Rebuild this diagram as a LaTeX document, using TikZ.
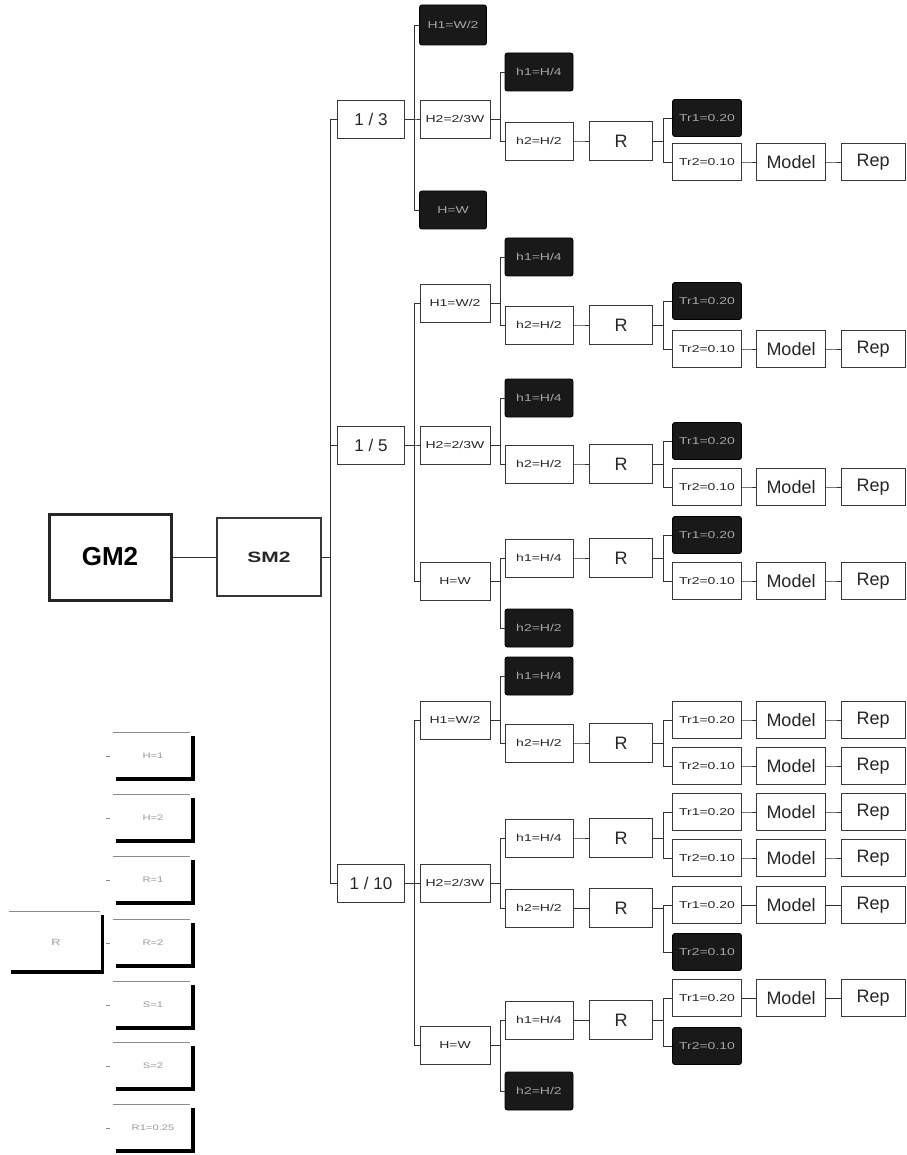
\documentclass[tikz,border=0pt]{standalone}
\usepackage{fontspec}
\setmainfont{Liberation Sans}
\newfontfamily\widefont[FakeStretch=1.4]{Liberation Sans}
\newcommand\br[3][10]{\draw[link] (#2.east) -- ++(#1,0) |- (#3.west);}
\begin{document}
\begin{tikzpicture}[x=1pt,y=-1pt,
  box/.style={draw=black!78, line width=0.9pt, fill=white, inner sep=0pt, text=black!85},
  sm/.style={box, minimum width=68pt, minimum height=38pt, font=\widefont\fontsize{10}{10}\selectfont},
  hb/.style={sm, minimum width=70pt},
  blk/.style={fill=black!90, draw=black, rounded corners=2.5pt, text=black!35},
  rb/.style={box, minimum width=63pt, minimum height=39pt, font=\fontsize{18}{18}\selectfont},
  tb/.style={sm, minimum width=69pt, minimum height=37pt},
  mb/.style={box, minimum width=69pt, minimum height=37pt, font=\fontsize{18}{18}\selectfont},
  pb/.style={mb, minimum width=64pt},
  lv/.style={box, minimum width=67pt, minimum height=38pt, font=\fontsize{17}{17}\selectfont},
  link/.style={draw=black!80, line width=0.9pt},
  lgb/.style={inner sep=0pt, minimum width=80pt, minimum height=46pt, text=black!40, font=\widefont\fontsize{8}{8}\selectfont},
  lgtop/.style={draw=black!45, line width=0.9pt},
  lgshadow/.style={draw=black, line width=3.5pt},
  lgtick/.style={draw=black!45, line width=0.8pt}
]
\useasboundingbox (0,0) rectangle (906,1155);

% root
\node[draw=black!85, line width=3pt, minimum width=122pt, minimum height=86pt, inner sep=0pt, font=\bfseries\fontsize{26}{26}\selectfont] (gm) at (110,557) {GM2};
\node[box, line width=1.3pt, minimum width=104pt, minimum height=78pt, font=\widefont\bfseries\fontsize{15}{15}\selectfont] (sm) at (269,557) {SM2};
\draw[link] (gm.east) -- (sm.west);

% level 1
\node[lv] (t3) at (371,119) {1 / 3};
\node[lv] (t5) at (371,445) {1 / 5};
\node[lv] (t10) at (371,883) {1 / 10};
\br[9]{sm}{t3} \br[9]{sm}{t5} \br[9]{sm}{t10}

% ===== 1/3 =====
\node[sm, blk, minimum width=67pt, minimum height=40pt] (a1) at (453,25) {H1=W/2};
\node[hb] (a2) at (455,119) {H2=2/3W};
\node[sm, blk, minimum width=67pt] (a3) at (453,210) {H=W};
\br[9.5]{t3}{a1} \br[9.5]{t3}{a2} \br[9.5]{t3}{a3}
\node[sm, blk] (a2h1) at (539,72) {h1=H/4};
\node[sm] (a2h2) at (539,141) {h2=H/2};
\br{a2}{a2h1} \br{a2}{a2h2}
\node[rb] (a2r) at (621,141) {R};
\br[8]{a2h2}{a2r}
\node[tb, blk] (a2t1) at (707,118) {Tr1=0.20};
\node[tb] (a2t2) at (707,162) {Tr2=0.10};
\br{a2r}{a2t1} \br{a2r}{a2t2}
\node[mb] (a2m) at (791,162) {Model};
\node[pb] (a2p) at (873,162) {Rep};
\br[7]{a2t2}{a2m} \br[7]{a2m}{a2p}

% ===== 1/5 =====
\node[hb] (d1) at (455,303) {H1=W/2};
\node[hb] (d2) at (455,445) {H2=2/3W};
\node[hb] (d3) at (455,581) {H=W};
\br[9.5]{t5}{d1} \br[9.5]{t5}{d2} \br[9.5]{t5}{d3}
% d1
\node[sm, blk] (d1h1) at (539,257) {h1=H/4};
\node[sm] (d1h2) at (539,325) {h2=H/2};
\br{d1}{d1h1} \br{d1}{d1h2}
\node[rb] (d1r) at (621,325) {R};
\br[8]{d1h2}{d1r}
\node[tb, blk] (d1t1) at (707,301) {Tr1=0.20};
\node[tb] (d1t2) at (707,349) {Tr2=0.10};
\br{d1r}{d1t1} \br{d1r}{d1t2}
\node[mb] (d1m) at (791,349) {Model};
\node[pb] (d1p) at (873,349) {Rep};
\br[7]{d1t2}{d1m} \br[7]{d1m}{d1p}
% d2
\node[sm, blk] (d2h1) at (539,398) {h1=H/4};
\node[sm] (d2h2) at (539,464) {h2=H/2};
\br{d2}{d2h1} \br{d2}{d2h2}
\node[rb] (d2r) at (621,464) {R};
\br[8]{d2h2}{d2r}
\node[tb, blk] (d2t1) at (707,441) {Tr1=0.20};
\node[tb] (d2t2) at (707,487) {Tr2=0.10};
\br{d2r}{d2t1} \br{d2r}{d2t2}
\node[mb] (d2m) at (791,487) {Model};
\node[pb] (d2p) at (873,487) {Rep};
\br[7]{d2t2}{d2m} \br[7]{d2m}{d2p}
% d3
\node[sm] (d3h1) at (539,558) {h1=H/4};
\node[sm, blk] (d3h2) at (539,628) {h2=H/2};
\br{d3}{d3h1} \br{d3}{d3h2}
\node[rb] (d3r) at (621,558) {R};
\br[8]{d3h1}{d3r}
\node[tb, blk] (d3t1) at (707,535) {Tr1=0.20};
\node[tb] (d3t2) at (707,581) {Tr2=0.10};
\br{d3r}{d3t1} \br{d3r}{d3t2}
\node[mb] (d3m) at (791,581) {Model};
\node[pb] (d3p) at (873,581) {Rep};
\br[7]{d3t2}{d3m} \br[7]{d3m}{d3p}

% ===== 1/10 =====
\node[hb] (k1) at (455,720) {H1=W/2};
\node[hb] (k2) at (455,883) {H2=2/3W};
\node[hb] (k3) at (455,1045) {H=W};
\br[9.5]{t10}{k1} \br[9.5]{t10}{k2} \br[9.5]{t10}{k3}
% k1
\node[sm, blk] (k1h1) at (539,676) {h1=H/4};
\node[sm] (k1h2) at (539,743) {h2=H/2};
\br{k1}{k1h1} \br{k1}{k1h2}
\node[rb] (k1r) at (621,743) {R};
\br[8]{k1h2}{k1r}
\node[tb] (k1t1) at (707,720) {Tr1=0.20};
\node[tb] (k1t2) at (707,766) {Tr2=0.10};
\br{k1r}{k1t1} \br{k1r}{k1t2}
\node[mb] (k1m1) at (791,720) {Model};
\node[pb] (k1p1) at (873,720) {Rep};
\node[mb] (k1m2) at (791,766) {Model};
\node[pb] (k1p2) at (873,766) {Rep};
\br[7]{k1t1}{k1m1} \br[7]{k1m1}{k1p1}
\br[7]{k1t2}{k1m2} \br[7]{k1m2}{k1p2}
% k2
\node[sm] (k2h1) at (539,838) {h1=H/4};
\node[sm] (k2h2) at (539,908) {h2=H/2};
\br{k2}{k2h1} \br{k2}{k2h2}
\node[rb] (k2r1) at (621,838) {R};
\node[rb] (k2r2) at (621,908) {R};
\br[8]{k2h1}{k2r1} \br[8]{k2h2}{k2r2}
\node[tb] (k2t1) at (707,812) {Tr1=0.20};
\node[tb] (k2t2) at (707,858) {Tr2=0.10};
\node[tb] (k2t3) at (707,905) {Tr1=0.20};
\node[tb, blk] (k2t4) at (707,952) {Tr2=0.10};
\br{k2r1}{k2t1} \br{k2r1}{k2t2} \br{k2r2}{k2t3} \br{k2r2}{k2t4}
\node[mb] (k2m1) at (791,812) {Model};
\node[pb] (k2p1) at (873,812) {Rep};
\node[mb] (k2m2) at (791,858) {Model};
\node[pb] (k2p2) at (873,858) {Rep};
\node[mb] (k2m3) at (791,905) {Model};
\node[pb] (k2p3) at (873,905) {Rep};
\br[7]{k2t1}{k2m1} \br[7]{k2m1}{k2p1}
\br[7]{k2t2}{k2m2} \br[7]{k2m2}{k2p2}
\br[7]{k2t3}{k2m3} \br[7]{k2m3}{k2p3}
% k3
\node[sm] (k3h1) at (539,1020) {h1=H/4};
\node[sm, blk] (k3h2) at (539,1091) {h2=H/2};
\br{k3}{k3h1} \br{k3}{k3h2}
\node[rb] (k3r) at (621,1020) {R};
\br[8]{k3h1}{k3r}
\node[tb] (k3t1) at (707,998) {Tr1=0.20};
\node[tb, blk] (k3t2) at (707,1046) {Tr2=0.10};
\br{k3r}{k3t1} \br{k3r}{k3t2}
\node[mb] (k3m) at (791,998) {Model};
\node[pb] (k3p) at (873,998) {Rep};
\br[7]{k3t1}{k3m} \br[7]{k3m}{k3p}

% ===== left legend group =====
\foreach \n/\yy/\tx in {1/756/H=1, 2/818/H=2, 3/880/R=1, 4/943/R=2, 5/1005/S=1, 6/1066/S=2, 7/1128/R1=0.25}{
  \node[lgb] (lg\n) at (153,\yy) {\tx};
  \draw[lgtop] (lg\n.north west) -- ([xshift=-3pt]lg\n.north east);
  \draw[lgshadow] ([yshift=-3pt]lg\n.north east) -- (lg\n.south east) -- ([xshift=3pt]lg\n.south west);
  \draw[lgtick] ([xshift=-7pt]lg\n.west) -- ([xshift=-3pt]lg\n.west);
}
\node[lgb, minimum width=93pt, minimum height=60pt, font=\widefont\fontsize{9}{9}\selectfont] (lr) at (56,942) {R};
\draw[lgtop] (lr.north west) -- ([xshift=-3pt]lr.north east);
\draw[lgshadow] ([yshift=-3pt]lr.north east) -- (lr.south east) -- ([xshift=2pt]lr.south west);
\end{tikzpicture}
\end{document}
